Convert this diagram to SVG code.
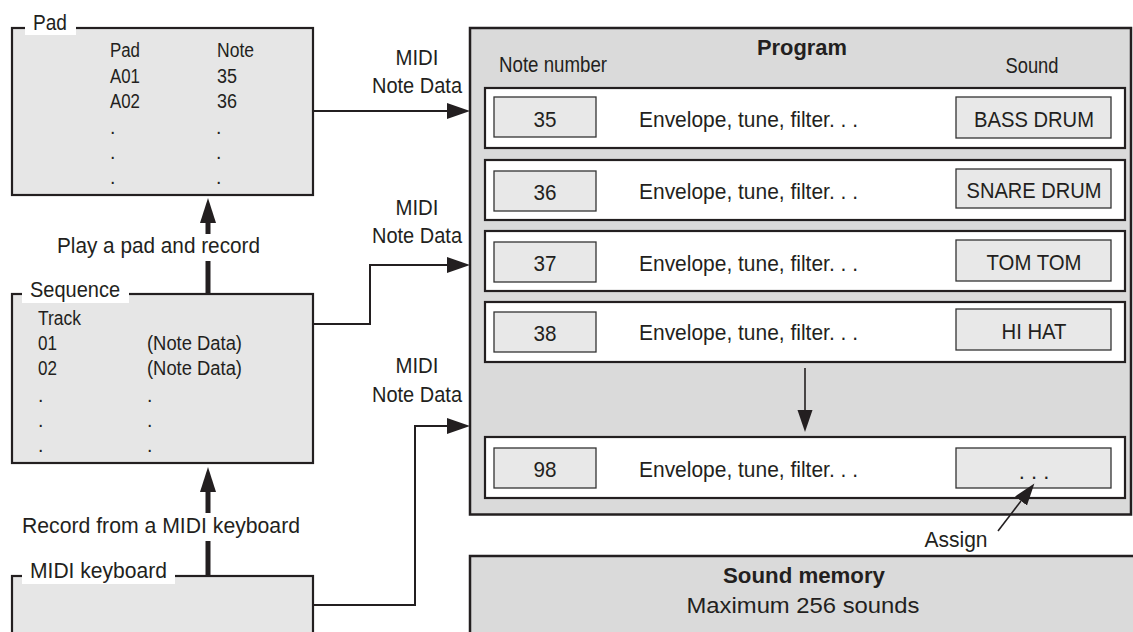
<svg xmlns="http://www.w3.org/2000/svg" width="1133" height="632" viewBox="0 0 1133 632">
<style>
text{font-family:"Liberation Sans",Arial,sans-serif;fill:#231f20;font-size:22px}
.sm{font-size:19.5px}
.b{font-weight:bold}
.m{text-anchor:middle}
.lbox{fill:#e6e6e6;stroke:#231f20;stroke-width:2.2}
.prog{fill:#dadada;stroke:#231f20;stroke-width:2.5}
.row{fill:#ffffff;stroke:#231f20;stroke-width:2.2}
.cell{fill:#e8e8e8;stroke:#333;stroke-width:1.3}
.wbg{fill:#ffffff}
.con{fill:none;stroke:#231f20;stroke-width:2}
.thick{fill:none;stroke:#231f20;stroke-width:5}
.thin{fill:none;stroke:#231f20;stroke-width:1.6}
</style>
<defs>
<marker id="ah" markerUnits="userSpaceOnUse" markerWidth="24" markerHeight="16" refX="0" refY="8" orient="auto"><path d="M0,0 L23,8 L0,16 z" fill="#231f20"/></marker>
<marker id="ahT" markerUnits="userSpaceOnUse" markerWidth="26" markerHeight="16" refX="0" refY="8" orient="auto"><path d="M0,0 L25,8 L0,16 z" fill="#231f20"/></marker>
<marker id="ahS" markerUnits="userSpaceOnUse" markerWidth="23" markerHeight="16" refX="0" refY="8" orient="auto"><path d="M0,0.5 L22,8 L0,15.5 z" fill="#231f20"/></marker>
</defs>

<g id="pad">
<rect class="lbox" x="12" y="28" width="301" height="167"/>
<rect class="wbg" x="25" y="12" width="51" height="23"/>
<text x="33" y="30" textLength="34" lengthAdjust="spacingAndGlyphs">Pad</text>
<text class="sm" x="110" y="57" textLength="30" lengthAdjust="spacingAndGlyphs">Pad</text>
<text class="sm" x="217" y="57" textLength="37" lengthAdjust="spacingAndGlyphs">Note</text>
<text class="sm" x="110" y="83" textLength="30" lengthAdjust="spacingAndGlyphs">A01</text>
<text class="sm" x="217" y="83" textLength="20" lengthAdjust="spacingAndGlyphs">35</text>
<text class="sm" x="110" y="108" textLength="30" lengthAdjust="spacingAndGlyphs">A02</text>
<text class="sm" x="217" y="108" textLength="20" lengthAdjust="spacingAndGlyphs">36</text>
<text class="sm" x="110" y="134">.</text><text class="sm" x="216" y="134">.</text>
<text class="sm" x="110" y="159">.</text><text class="sm" x="216" y="159">.</text>
<text class="sm" x="110" y="184">.</text><text class="sm" x="216" y="184">.</text>
</g>

<g id="sequence">
<rect class="lbox" x="12" y="294" width="301" height="169"/>
<rect class="wbg" x="22" y="278" width="107" height="25"/>
<text x="30" y="297" textLength="90" lengthAdjust="spacingAndGlyphs">Sequence</text>
<text class="sm" x="38" y="325" textLength="43" lengthAdjust="spacingAndGlyphs">Track</text>
<text class="sm" x="38" y="350" textLength="19" lengthAdjust="spacingAndGlyphs">01</text>
<text class="sm" x="147" y="350" textLength="95" lengthAdjust="spacingAndGlyphs">(Note Data)</text>
<text class="sm" x="38" y="375" textLength="19" lengthAdjust="spacingAndGlyphs">02</text>
<text class="sm" x="147" y="375" textLength="95" lengthAdjust="spacingAndGlyphs">(Note Data)</text>
<text class="sm" x="38" y="402">.</text><text class="sm" x="147" y="402">.</text>
<text class="sm" x="38" y="427">.</text><text class="sm" x="147" y="427">.</text>
<text class="sm" x="38" y="452">.</text><text class="sm" x="147" y="452">.</text>
</g>

<g id="midi-keyboard">
<rect class="lbox" x="12" y="576" width="301" height="80"/>
<rect class="wbg" x="22" y="560" width="153" height="24"/>
<text x="30" y="578" textLength="137" lengthAdjust="spacingAndGlyphs">MIDI keyboard</text>
</g>

<g id="program">
<rect class="prog" x="470" y="28" width="661" height="486.5"/>
<text class="b m" x="802" y="55" font-size="23" textLength="90" lengthAdjust="spacingAndGlyphs">Program</text>
<text x="499" y="72" textLength="108" lengthAdjust="spacingAndGlyphs">Note number</text>
<text class="m" x="1032" y="73" textLength="53" lengthAdjust="spacingAndGlyphs">Sound</text>
</g>

<g id="row-35">
<rect class="row" x="485" y="88" width="640" height="60"/>
<rect class="cell" x="494" y="97" width="102" height="40"/>
<text class="m" x="545" y="127" textLength="23" lengthAdjust="spacingAndGlyphs">35</text>
<text x="639" y="127" textLength="219" lengthAdjust="spacingAndGlyphs">Envelope, tune, filter. . .</text>
<rect class="cell" x="956" y="97" width="155" height="41"/>
<text class="m" x="1034" y="127" textLength="120" lengthAdjust="spacingAndGlyphs">BASS DRUM</text>
</g>

<g id="row-36">
<rect class="row" x="485" y="160" width="640" height="60"/>
<rect class="cell" x="494" y="171" width="102" height="40"/>
<text class="m" x="545" y="200" textLength="23" lengthAdjust="spacingAndGlyphs">36</text>
<text x="639" y="199" textLength="219" lengthAdjust="spacingAndGlyphs">Envelope, tune, filter. . .</text>
<rect class="cell" x="956" y="169" width="155" height="39"/>
<text class="m" x="1034" y="198" textLength="135" lengthAdjust="spacingAndGlyphs">SNARE DRUM</text>
</g>

<g id="row-37">
<rect class="row" x="485" y="231" width="640" height="60"/>
<rect class="cell" x="494" y="242" width="102" height="40"/>
<text class="m" x="545" y="271" textLength="23" lengthAdjust="spacingAndGlyphs">37</text>
<text x="639" y="271" textLength="219" lengthAdjust="spacingAndGlyphs">Envelope, tune, filter. . .</text>
<rect class="cell" x="956" y="240" width="155" height="41"/>
<text class="m" x="1034" y="270" textLength="95" lengthAdjust="spacingAndGlyphs">TOM TOM</text>
</g>

<g id="row-38">
<rect class="row" x="485" y="302" width="640" height="60"/>
<rect class="cell" x="494" y="312" width="102" height="40"/>
<text class="m" x="545" y="341" textLength="23" lengthAdjust="spacingAndGlyphs">38</text>
<text x="639" y="340" textLength="219" lengthAdjust="spacingAndGlyphs">Envelope, tune, filter. . .</text>
<rect class="cell" x="956" y="309" width="155" height="41"/>
<text class="m" x="1034" y="339" textLength="65" lengthAdjust="spacingAndGlyphs">HI HAT</text>
</g>

<g id="row-98">
<rect class="row" x="485" y="437" width="640" height="61"/>
<rect class="cell" x="494" y="448" width="102" height="40"/>
<text class="m" x="545" y="477" textLength="23" lengthAdjust="spacingAndGlyphs">98</text>
<text x="639" y="477" textLength="219" lengthAdjust="spacingAndGlyphs">Envelope, tune, filter. . .</text>
<rect class="cell" x="956" y="448" width="155" height="40"/>
<text class="m" x="1034" y="479">. . .</text>
</g>

<g id="sound-memory">
<rect class="prog" x="470" y="556" width="700" height="100"/>
<text class="b m" x="804" y="583" font-size="23" textLength="162" lengthAdjust="spacingAndGlyphs">Sound memory</text>
<text class="m" x="803" y="613" font-size="22" textLength="233" lengthAdjust="spacingAndGlyphs">Maximum 256 sounds</text>
</g>

<g id="connectors">
<path class="con" d="M313,111 H447" marker-end="url(#ah)"/>
<text class="m" x="417" y="65" textLength="43" lengthAdjust="spacingAndGlyphs">MIDI</text>
<text class="m" x="417" y="93" textLength="90" lengthAdjust="spacingAndGlyphs">Note Data</text>

<path class="con" d="M313,324 H370 V265 H447" marker-end="url(#ah)"/>
<text class="m" x="417" y="215" textLength="43" lengthAdjust="spacingAndGlyphs">MIDI</text>
<text class="m" x="417" y="243" textLength="90" lengthAdjust="spacingAndGlyphs">Note Data</text>

<path class="con" d="M313,605 H415 V426 H447" marker-end="url(#ah)"/>
<text class="m" x="417" y="373" textLength="43" lengthAdjust="spacingAndGlyphs">MIDI</text>
<text class="m" x="417" y="402" textLength="90" lengthAdjust="spacingAndGlyphs">Note Data</text>

<path class="thick" d="M208,294 V223" marker-end="url(#ahT)"/>
<rect class="wbg" x="52" y="234" width="213" height="27"/>
<text x="57" y="253" textLength="203" lengthAdjust="spacingAndGlyphs">Play a pad and record</text>

<path class="thick" d="M208,576 V492" marker-end="url(#ahT)"/>
<rect class="wbg" x="17" y="513" width="288" height="28"/>
<text x="22" y="533" textLength="278" lengthAdjust="spacingAndGlyphs">Record from a MIDI keyboard</text>

<path class="thin" d="M805,368 V410" marker-end="url(#ahS)"/>

<path class="thin" d="M998,531 L1021,501" marker-end="url(#ahS)"/>
<text class="m" x="956" y="547" textLength="63" lengthAdjust="spacingAndGlyphs">Assign</text>
</g>
</svg>
